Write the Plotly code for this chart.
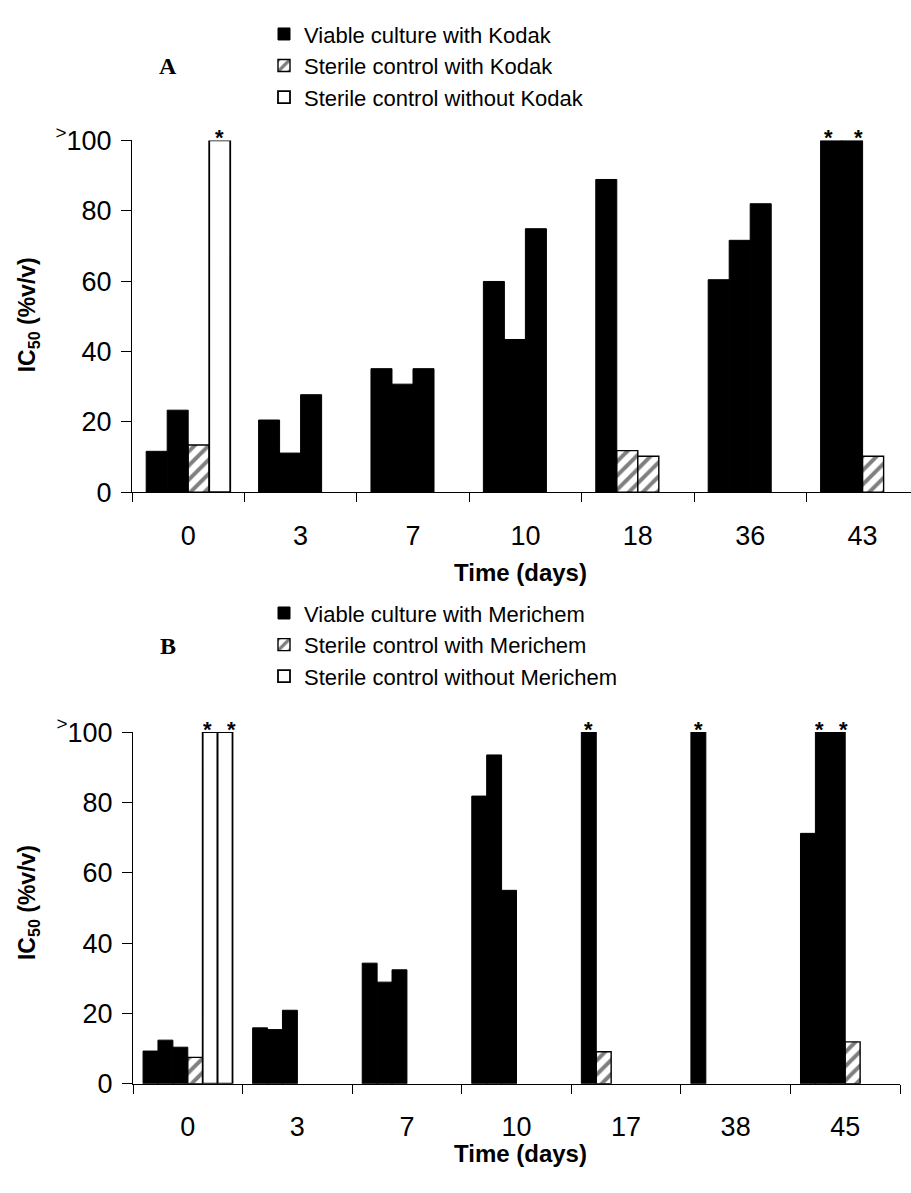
import plotly.graph_objects as go

W, H = 911, 1193

# ---------------- data (IC50, %v/v); 100 = top of scale (reported as ">100") -------------
days_A = ["0", "3", "7", "10", "18", "36", "43"]
viable_A = [[11.6, 23.3], [20.5, 11.1, 27.7], [35.1, 30.7, 35.1], [59.9, 43.4, 74.9],
            [88.9], [60.4, 71.6, 82.0], [100, 100]]
sterile_A = [[13.4], [], [], [], [11.8, 10.2], [], [10.2]]
without_A = [[100], [], [], [], [], [], []]
names_A = ["Viable culture with Kodak", "Sterile control with Kodak",
           "Sterile control without Kodak"]

days_B = ["0", "3", "7", "10", "17", "38", "45"]
viable_B = [[9.3, 12.4, 10.4], [15.9, 15.4, 20.9], [34.3, 28.9, 32.4], [81.8, 93.5, 55.0],
            [100], [100], [71.2, 100, 100]]
sterile_B = [[7.5], [], [], [], [9.1], [], [11.9]]
without_B = [[100, 100], [], [], [], [], [], []]
names_B = ["Viable culture with Merichem", "Sterile control with Merichem",
           "Sterile control without Merichem"]

y_tickvals = [0, 20, 40, 60, 80, 100]
y_ticktext = ["0", "20", "40", "60", "80", "<sup>&gt;</sup>100"]
TOP = 100
GAP = 1.35  # Excel-like gap width (fraction of one bar)

# ---------------- styles ----------------
FONT = "Liberation Sans, Arial, sans-serif"
SERIF = "Liberation Serif, Times New Roman, serif"
styles = [
    dict(color="black", line=dict(color="black", width=1)),
    dict(color="white", line=dict(color="black", width=1.4),
         pattern=dict(shape="/", fgcolor="black", bgcolor="white", size=10, solidity=0.4)),
    dict(color="white", line=dict(color="black", width=1.8)),
]


def px_x(p):
    return p / W


def px_y(p):
    return 1 - p / H


def place(series_list):
    n = len(series_list[0])
    nslots = max(sum(len(s[i]) for s in series_list) for i in range(n))
    w = 1.0 / (nslots + GAP)
    xs = [[] for _ in series_list]
    ys = [[] for _ in series_list]
    for i in range(n):
        slot = 0
        for k, s in enumerate(series_list):
            for v in s[i]:
                xs[k].append(i - nslots * w / 2 + (slot + 0.5) * w)
                ys[k].append(v)
                slot += 1
    return xs, ys, w


fig = go.Figure()
annotations = []

panels = [
    dict(series=[viable_A, sterile_A, without_A], names=names_A, days=days_A,
         xa="x", ya="y", legend="legend"),
    dict(series=[viable_B, sterile_B, without_B], names=names_B, days=days_B,
         xa="x2", ya="y2", legend="legend2"),
]

for p in panels:
    xs, ys, w = place(p["series"])
    star_x = []
    for k in range(3):
        fig.add_trace(go.Bar(
            x=xs[k], y=ys[k], width=w, name=p["names"][k],
            marker=styles[k], xaxis=p["xa"], yaxis=p["ya"],
            legend=p["legend"], legendgroup=p["legend"] + str(k),
            showlegend=True, hoverinfo="skip",
        ))
        star_x += [xv for xv, yv in zip(xs[k], ys[k]) if yv >= TOP]
    star_x.sort()
    for j, xv in enumerate(star_x):
        # asterisks of neighbouring off-scale bars sit slightly apart (as in the original)
        left_nb = j > 0 and abs(star_x[j - 1] - xv) < 1.5 * w
        right_nb = j < len(star_x) - 1 and abs(star_x[j + 1] - xv) < 1.5 * w
        shift = 6 if left_nb else (-3 if right_nb else 0)
        annotations.append(dict(
            x=xv, y=TOP, xref=p["xa"], yref=p["ya"], text="<b>*</b>",
            showarrow=False, xanchor="center", yanchor="bottom", yshift=-12, xshift=shift,
            font=dict(family=FONT, size=22, color="black")))

# geometry (pixels)
A_left, A_top, A_bot, A_cat = 132, 125, 487, 112.4
B_left, B_right, B_top, B_bot = 133, 900, 734, 1096

axis_common = dict(showline=True, linecolor="black", linewidth=1, showgrid=False,
                   zeroline=False, tickfont=dict(family=FONT, size=27, color="black"))

xaxis_common = dict(axis_common, tickmode="array", ticks="", ticklabelstandoff=19,
                    minor=dict(tickmode="array", tickvals=[i - 0.5 for i in range(8)],
                               ticks="outside", ticklen=9, tickcolor="black", tickwidth=1))

yaxis_common = dict(axis_common, range=[0, 100], tickmode="array", tickvals=y_tickvals,
                    ticktext=y_ticktext, ticks="outside", ticklen=10, tickcolor="black",
                    ticklabelstandoff=4)

legend_common = dict(xanchor="left", yanchor="top", bgcolor="rgba(0,0,0,0)",
                     font=dict(family=FONT, size=22, color="black"),
                     tracegroupgap=0, traceorder="grouped")

fig.update_layout(
    width=W, height=H,
    margin=dict(l=0, r=0, t=0, b=0),
    paper_bgcolor="white", plot_bgcolor="rgba(0,0,0,0)",
    barmode="overlay",
    showlegend=True,
    xaxis=dict(xaxis_common, domain=[px_x(A_left), 1.0], anchor="y",
               range=[-0.5, -0.5 + (W - A_left) / A_cat],
               tickvals=list(range(len(days_A))), ticktext=days_A),
    yaxis=dict(yaxis_common, domain=[px_y(A_bot), px_y(A_top)], anchor="x"),
    xaxis2=dict(xaxis_common, domain=[px_x(B_left), px_x(B_right)], anchor="y2",
                range=[-0.5, 6.5], tickvals=list(range(len(days_B))), ticktext=days_B),
    yaxis2=dict(yaxis_common, domain=[px_y(B_bot), px_y(B_top)], anchor="x2"),
    legend=dict(legend_common, x=px_x(264), y=px_y(-6)),
    legend2=dict(legend_common, x=px_x(264), y=px_y(590)),
)

# panel letters
for letter, yc in (("A", 48), ("B", 645)):
    annotations.append(dict(x=px_x(168), y=px_y(yc), xref="paper", yref="paper",
                            xanchor="center", yanchor="middle",
                            text="<b>" + letter + "</b>", showarrow=False,
                            font=dict(family=SERIF, size=24, color="black")))
# axis titles
for yc in (570, 1168):
    annotations.append(dict(x=px_x(520), y=px_y(yc), xref="paper", yref="paper",
                            xanchor="center", yanchor="middle",
                            text="<b>Time (days)</b>", showarrow=False,
                            font=dict(family=FONT, size=24, color="black")))
for yc in (305, 910):
    annotations.append(dict(x=px_x(28), y=px_y(yc), xref="paper", yref="paper",
                            xanchor="center", yanchor="middle",
                            text="<b>IC<sub>50</sub> (%v/v)</b>", showarrow=False,
                            textangle=-90,
                            font=dict(family=FONT, size=23, color="black")))

fig.update_layout(annotations=annotations)
fig.write_html("out.html", config={"displayModeBar": False, "staticPlot": True},
               post_script="document.body.style.margin='0px';")
